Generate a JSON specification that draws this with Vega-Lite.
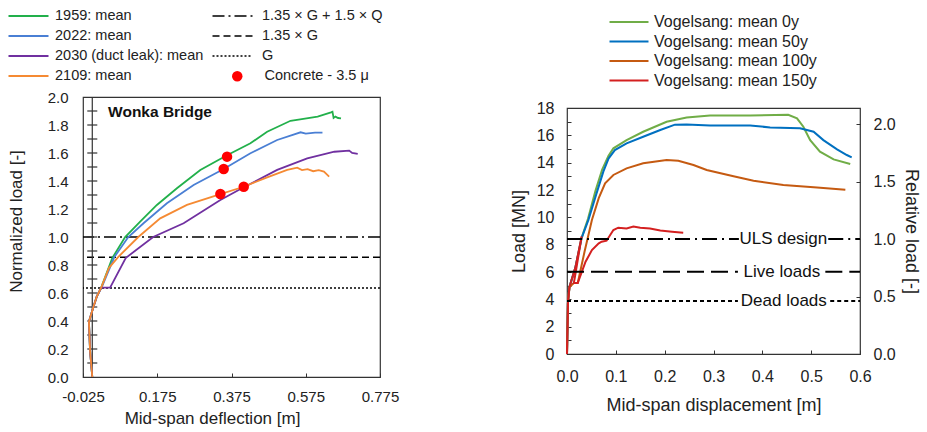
{
  "$schema": "https://vega.github.io/schema/vega-lite/v6.json",
  "autosize": {"type": "none"},
  "padding": {"left": 83, "top": 97, "right": 844, "bottom": 335},
  "background": "white",
  "bounds": "flush",
  "spacing": 187,
  "resolve": {"scale": {"color": "independent", "strokeDash": "independent", "shape": "independent", "strokeWidth": "independent"}},
  "config": {
    "font": "Liberation Sans",
    "view": {"stroke": "#333", "strokeWidth": 1.2},
    "axis": {"grid": false, "domain": false, "labelFont": "Liberation Sans", "titleFont": "Liberation Sans", "labelColor": "#222", "titleColor": "#222", "titleFontWeight": "normal", "tickColor": "#333", "labelFontSize": 15, "titleFontSize": 17, "labelFlush": false, "labelOverlap": false},
    "legend": {"labelFont": "Liberation Sans", "labelColor": "#222", "padding": 0, "rowPadding": 2, "direction": "vertical", "labelLimit": 0}
  },
  "datasets": {
    "leftLines": [
      {"s": "1959: mean", "i": 0, "x": 0.0, "y": 0.0}, {"s": "1959: mean", "i": 1, "x": -0.006, "y": 0.19}, {"s": "1959: mean", "i": 2, "x": -0.009, "y": 0.395}, {"s": "1959: mean", "i": 3, "x": 0.003, "y": 0.5}, {"s": "1959: mean", "i": 4, "x": 0.012, "y": 0.574}, {"s": "1959: mean", "i": 5, "x": 0.024, "y": 0.638}, {"s": "1959: mean", "i": 6, "x": 0.054, "y": 0.85}, {"s": "1959: mean", "i": 7, "x": 0.0885, "y": 1.0}, {"s": "1959: mean", "i": 8, "x": 0.129, "y": 1.109}, {"s": "1959: mean", "i": 9, "x": 0.174, "y": 1.229}, {"s": "1959: mean", "i": 10, "x": 0.228, "y": 1.348}, {"s": "1959: mean", "i": 11, "x": 0.291, "y": 1.479}, {"s": "1959: mean", "i": 12, "x": 0.363, "y": 1.584}, {"s": "1959: mean", "i": 13, "x": 0.426, "y": 1.669}, {"s": "1959: mean", "i": 14, "x": 0.471, "y": 1.752}, {"s": "1959: mean", "i": 15, "x": 0.534, "y": 1.83}, {"s": "1959: mean", "i": 16, "x": 0.56, "y": 1.84}, {"s": "1959: mean", "i": 17, "x": 0.607, "y": 1.86}, {"s": "1959: mean", "i": 18, "x": 0.643, "y": 1.89}, {"s": "1959: mean", "i": 19, "x": 0.647, "y": 1.895}, {"s": "1959: mean", "i": 20, "x": 0.65, "y": 1.85}, {"s": "1959: mean", "i": 21, "x": 0.655, "y": 1.86}, {"s": "1959: mean", "i": 22, "x": 0.662, "y": 1.85}, {"s": "1959: mean", "i": 23, "x": 0.67, "y": 1.848},
      {"s": "2022: mean", "i": 0, "x": 0.0, "y": 0.0}, {"s": "2022: mean", "i": 1, "x": -0.006, "y": 0.19}, {"s": "2022: mean", "i": 2, "x": -0.009, "y": 0.395}, {"s": "2022: mean", "i": 3, "x": 0.003, "y": 0.5}, {"s": "2022: mean", "i": 4, "x": 0.012, "y": 0.574}, {"s": "2022: mean", "i": 5, "x": 0.025, "y": 0.638}, {"s": "2022: mean", "i": 6, "x": 0.059, "y": 0.855}, {"s": "2022: mean", "i": 7, "x": 0.097, "y": 1.0}, {"s": "2022: mean", "i": 8, "x": 0.138, "y": 1.098}, {"s": "2022: mean", "i": 9, "x": 0.201, "y": 1.241}, {"s": "2022: mean", "i": 10, "x": 0.273, "y": 1.371}, {"s": "2022: mean", "i": 11, "x": 0.354, "y": 1.486}, {"s": "2022: mean", "i": 12, "x": 0.426, "y": 1.598}, {"s": "2022: mean", "i": 13, "x": 0.498, "y": 1.693}, {"s": "2022: mean", "i": 14, "x": 0.54, "y": 1.73}, {"s": "2022: mean", "i": 15, "x": 0.561, "y": 1.748}, {"s": "2022: mean", "i": 16, "x": 0.575, "y": 1.738}, {"s": "2022: mean", "i": 17, "x": 0.6, "y": 1.745}, {"s": "2022: mean", "i": 18, "x": 0.62, "y": 1.745},
      {"s": "2030 (duct leak): mean", "i": 0, "x": 0.0, "y": 0.0}, {"s": "2030 (duct leak): mean", "i": 1, "x": -0.006, "y": 0.19}, {"s": "2030 (duct leak): mean", "i": 2, "x": -0.009, "y": 0.395}, {"s": "2030 (duct leak): mean", "i": 3, "x": 0.003, "y": 0.5}, {"s": "2030 (duct leak): mean", "i": 4, "x": 0.012, "y": 0.574}, {"s": "2030 (duct leak): mean", "i": 5, "x": 0.024, "y": 0.638}, {"s": "2030 (duct leak): mean", "i": 6, "x": 0.048, "y": 0.638}, {"s": "2030 (duct leak): mean", "i": 7, "x": 0.09, "y": 0.85}, {"s": "2030 (duct leak): mean", "i": 8, "x": 0.164, "y": 1.0}, {"s": "2030 (duct leak): mean", "i": 9, "x": 0.246, "y": 1.098}, {"s": "2030 (duct leak): mean", "i": 10, "x": 0.345, "y": 1.264}, {"s": "2030 (duct leak): mean", "i": 11, "x": 0.408, "y": 1.355}, {"s": "2030 (duct leak): mean", "i": 12, "x": 0.498, "y": 1.479}, {"s": "2030 (duct leak): mean", "i": 13, "x": 0.579, "y": 1.562}, {"s": "2030 (duct leak): mean", "i": 14, "x": 0.652, "y": 1.609}, {"s": "2030 (duct leak): mean", "i": 15, "x": 0.692, "y": 1.617}, {"s": "2030 (duct leak): mean", "i": 16, "x": 0.7, "y": 1.6}, {"s": "2030 (duct leak): mean", "i": 17, "x": 0.715, "y": 1.593},
      {"s": "2109: mean", "i": 0, "x": 0.0, "y": 0.0}, {"s": "2109: mean", "i": 1, "x": -0.006, "y": 0.19}, {"s": "2109: mean", "i": 2, "x": -0.009, "y": 0.395}, {"s": "2109: mean", "i": 3, "x": 0.003, "y": 0.5}, {"s": "2109: mean", "i": 4, "x": 0.012, "y": 0.574}, {"s": "2109: mean", "i": 5, "x": 0.024, "y": 0.638}, {"s": "2109: mean", "i": 6, "x": 0.045, "y": 0.78}, {"s": "2109: mean", "i": 7, "x": 0.069, "y": 0.855}, {"s": "2109: mean", "i": 8, "x": 0.124, "y": 1.0}, {"s": "2109: mean", "i": 9, "x": 0.183, "y": 1.133}, {"s": "2109: mean", "i": 10, "x": 0.255, "y": 1.229}, {"s": "2109: mean", "i": 11, "x": 0.345, "y": 1.307}, {"s": "2109: mean", "i": 12, "x": 0.408, "y": 1.359}, {"s": "2109: mean", "i": 13, "x": 0.471, "y": 1.426}, {"s": "2109: mean", "i": 14, "x": 0.525, "y": 1.479}, {"s": "2109: mean", "i": 15, "x": 0.552, "y": 1.495}, {"s": "2109: mean", "i": 16, "x": 0.565, "y": 1.478}, {"s": "2109: mean", "i": 17, "x": 0.58, "y": 1.485}, {"s": "2109: mean", "i": 18, "x": 0.595, "y": 1.47}, {"s": "2109: mean", "i": 19, "x": 0.61, "y": 1.478}, {"s": "2109: mean", "i": 20, "x": 0.624, "y": 1.467}, {"s": "2109: mean", "i": 21, "x": 0.638, "y": 1.431}
    ],
    "leftPts": [
      {"kind": "Concrete  - 3.5 μ", "x": 0.363, "y": 1.574},
      {"kind": "Concrete  - 3.5 μ", "x": 0.354, "y": 1.486},
      {"kind": "Concrete  - 3.5 μ", "x": 0.345, "y": 1.307},
      {"kind": "Concrete  - 3.5 μ", "x": 0.408, "y": 1.359}
    ],
    "leftRef": [
      {"label": "1.35 × G + 1.5 × Q", "y": 1.0},
      {"label": "1.35 × G", "y": 0.855},
      {"label": "G", "y": 0.635}
    ],
    "leftTicks": [
      {"y": 0.1}, {"y": 0.2}, {"y": 0.3}, {"y": 0.4}, {"y": 0.5}, {"y": 0.6}, {"y": 0.7}, {"y": 0.8}, {"y": 0.9}, {"y": 1.0},
      {"y": 1.1}, {"y": 1.2}, {"y": 1.3}, {"y": 1.4}, {"y": 1.5}, {"y": 1.6}, {"y": 1.7}, {"y": 1.8}, {"y": 1.9}
    ],
    "rightLines": [
      {"s": "Vogelsang: mean 0y", "i": 0, "x": 0.0, "y": 0.0}, {"s": "Vogelsang: mean 0y", "i": 1, "x": 0.002, "y": 3.8}, {"s": "Vogelsang: mean 0y", "i": 2, "x": 0.005, "y": 4.9}, {"s": "Vogelsang: mean 0y", "i": 3, "x": 0.017, "y": 6.3}, {"s": "Vogelsang: mean 0y", "i": 4, "x": 0.03, "y": 8.5}, {"s": "Vogelsang: mean 0y", "i": 5, "x": 0.043, "y": 9.9}, {"s": "Vogelsang: mean 0y", "i": 6, "x": 0.058, "y": 11.9}, {"s": "Vogelsang: mean 0y", "i": 7, "x": 0.072, "y": 13.5}, {"s": "Vogelsang: mean 0y", "i": 8, "x": 0.085, "y": 14.5}, {"s": "Vogelsang: mean 0y", "i": 9, "x": 0.095, "y": 15.05}, {"s": "Vogelsang: mean 0y", "i": 10, "x": 0.122, "y": 15.65}, {"s": "Vogelsang: mean 0y", "i": 11, "x": 0.156, "y": 16.26}, {"s": "Vogelsang: mean 0y", "i": 12, "x": 0.204, "y": 16.99}, {"s": "Vogelsang: mean 0y", "i": 13, "x": 0.245, "y": 17.31}, {"s": "Vogelsang: mean 0y", "i": 14, "x": 0.293, "y": 17.46}, {"s": "Vogelsang: mean 0y", "i": 15, "x": 0.375, "y": 17.46}, {"s": "Vogelsang: mean 0y", "i": 16, "x": 0.453, "y": 17.5}, {"s": "Vogelsang: mean 0y", "i": 17, "x": 0.471, "y": 17.24}, {"s": "Vogelsang: mean 0y", "i": 18, "x": 0.484, "y": 16.63}, {"s": "Vogelsang: mean 0y", "i": 19, "x": 0.498, "y": 15.65}, {"s": "Vogelsang: mean 0y", "i": 20, "x": 0.518, "y": 14.8}, {"s": "Vogelsang: mean 0y", "i": 21, "x": 0.546, "y": 14.24}, {"s": "Vogelsang: mean 0y", "i": 22, "x": 0.58, "y": 13.9},
      {"s": "Vogelsang: mean 50y", "i": 0, "x": 0.0, "y": 0.0}, {"s": "Vogelsang: mean 50y", "i": 1, "x": 0.002, "y": 3.8}, {"s": "Vogelsang: mean 50y", "i": 2, "x": 0.005, "y": 4.9}, {"s": "Vogelsang: mean 50y", "i": 3, "x": 0.017, "y": 6.3}, {"s": "Vogelsang: mean 50y", "i": 4, "x": 0.03, "y": 8.5}, {"s": "Vogelsang: mean 50y", "i": 5, "x": 0.0437, "y": 9.8}, {"s": "Vogelsang: mean 50y", "i": 6, "x": 0.06, "y": 11.7}, {"s": "Vogelsang: mean 50y", "i": 7, "x": 0.0744, "y": 13.34}, {"s": "Vogelsang: mean 50y", "i": 8, "x": 0.085, "y": 14.3}, {"s": "Vogelsang: mean 50y", "i": 9, "x": 0.098, "y": 14.92}, {"s": "Vogelsang: mean 50y", "i": 10, "x": 0.122, "y": 15.41}, {"s": "Vogelsang: mean 50y", "i": 11, "x": 0.156, "y": 15.9}, {"s": "Vogelsang: mean 50y", "i": 12, "x": 0.191, "y": 16.39}, {"s": "Vogelsang: mean 50y", "i": 13, "x": 0.221, "y": 16.78}, {"s": "Vogelsang: mean 50y", "i": 14, "x": 0.245, "y": 16.8}, {"s": "Vogelsang: mean 50y", "i": 15, "x": 0.293, "y": 16.72}, {"s": "Vogelsang: mean 50y", "i": 16, "x": 0.375, "y": 16.72}, {"s": "Vogelsang: mean 50y", "i": 17, "x": 0.416, "y": 16.58}, {"s": "Vogelsang: mean 50y", "i": 18, "x": 0.477, "y": 16.51}, {"s": "Vogelsang: mean 50y", "i": 19, "x": 0.505, "y": 16.26}, {"s": "Vogelsang: mean 50y", "i": 20, "x": 0.525, "y": 15.65}, {"s": "Vogelsang: mean 50y", "i": 21, "x": 0.553, "y": 14.97}, {"s": "Vogelsang: mean 50y", "i": 22, "x": 0.573, "y": 14.56}, {"s": "Vogelsang: mean 50y", "i": 23, "x": 0.583, "y": 14.39},
      {"s": "Vogelsang: mean 100y", "i": 0, "x": 0.0, "y": 0.0}, {"s": "Vogelsang: mean 100y", "i": 1, "x": 0.002, "y": 3.8}, {"s": "Vogelsang: mean 100y", "i": 2, "x": 0.005, "y": 4.9}, {"s": "Vogelsang: mean 100y", "i": 3, "x": 0.014, "y": 5.2}, {"s": "Vogelsang: mean 100y", "i": 4, "x": 0.022, "y": 5.2}, {"s": "Vogelsang: mean 100y", "i": 5, "x": 0.036, "y": 7.5}, {"s": "Vogelsang: mean 100y", "i": 6, "x": 0.051, "y": 9.8}, {"s": "Vogelsang: mean 100y", "i": 7, "x": 0.065, "y": 11.4}, {"s": "Vogelsang: mean 100y", "i": 8, "x": 0.078, "y": 12.49}, {"s": "Vogelsang: mean 100y", "i": 9, "x": 0.095, "y": 13.1}, {"s": "Vogelsang: mean 100y", "i": 10, "x": 0.122, "y": 13.58}, {"s": "Vogelsang: mean 100y", "i": 11, "x": 0.156, "y": 13.95}, {"s": "Vogelsang: mean 100y", "i": 12, "x": 0.204, "y": 14.19}, {"s": "Vogelsang: mean 100y", "i": 13, "x": 0.228, "y": 14.14}, {"s": "Vogelsang: mean 100y", "i": 14, "x": 0.259, "y": 13.83}, {"s": "Vogelsang: mean 100y", "i": 15, "x": 0.286, "y": 13.46}, {"s": "Vogelsang: mean 100y", "i": 16, "x": 0.341, "y": 13.0}, {"s": "Vogelsang: mean 100y", "i": 17, "x": 0.382, "y": 12.68}, {"s": "Vogelsang: mean 100y", "i": 18, "x": 0.443, "y": 12.36}, {"s": "Vogelsang: mean 100y", "i": 19, "x": 0.512, "y": 12.18}, {"s": "Vogelsang: mean 100y", "i": 20, "x": 0.57, "y": 12.02},
      {"s": "Vogelsang: mean 150y", "i": 0, "x": 0.0, "y": 0.0}, {"s": "Vogelsang: mean 150y", "i": 1, "x": 0.002, "y": 3.8}, {"s": "Vogelsang: mean 150y", "i": 2, "x": 0.005, "y": 4.9}, {"s": "Vogelsang: mean 150y", "i": 3, "x": 0.017, "y": 6.3}, {"s": "Vogelsang: mean 150y", "i": 4, "x": 0.03, "y": 8.6}, {"s": "Vogelsang: mean 150y", "i": 5, "x": 0.016, "y": 5.6}, {"s": "Vogelsang: mean 150y", "i": 6, "x": 0.014, "y": 5.2}, {"s": "Vogelsang: mean 150y", "i": 7, "x": 0.022, "y": 5.2}, {"s": "Vogelsang: mean 150y", "i": 8, "x": 0.038, "y": 6.75}, {"s": "Vogelsang: mean 150y", "i": 9, "x": 0.051, "y": 7.6}, {"s": "Vogelsang: mean 150y", "i": 10, "x": 0.065, "y": 8.1}, {"s": "Vogelsang: mean 150y", "i": 11, "x": 0.071, "y": 8.22}, {"s": "Vogelsang: mean 150y", "i": 12, "x": 0.081, "y": 8.29}, {"s": "Vogelsang: mean 150y", "i": 13, "x": 0.095, "y": 9.07}, {"s": "Vogelsang: mean 150y", "i": 14, "x": 0.105, "y": 9.24}, {"s": "Vogelsang: mean 150y", "i": 15, "x": 0.122, "y": 9.19}, {"s": "Vogelsang: mean 150y", "i": 16, "x": 0.136, "y": 9.33}, {"s": "Vogelsang: mean 150y", "i": 17, "x": 0.15, "y": 9.24}, {"s": "Vogelsang: mean 150y", "i": 18, "x": 0.17, "y": 9.19}, {"s": "Vogelsang: mean 150y", "i": 19, "x": 0.191, "y": 9.04}, {"s": "Vogelsang: mean 150y", "i": 20, "x": 0.215, "y": 8.95}, {"s": "Vogelsang: mean 150y", "i": 21, "x": 0.238, "y": 8.88}
    ],
    "rightRef": [
      {"label": "ULS design", "rel": 1.0, "x1": 0.0, "x2": 0.352},
      {"label": "ULS design", "rel": 1.0, "x1": 0.535, "x2": 0.6},
      {"label": "Live loads", "rel": 0.716, "x1": 0.0, "x2": 0.35},
      {"label": "Live loads", "rel": 0.716, "x1": 0.529, "x2": 0.6},
      {"label": "Dead loads", "rel": 0.461, "x1": 0.0, "x2": 0.35},
      {"label": "Dead loads", "rel": 0.461, "x1": 0.539, "x2": 0.6}
    ],
    "rightText": [
      {"label": "ULS design", "rel": 1.0, "x": 0.443},
      {"label": "Live loads", "rel": 0.716, "x": 0.44},
      {"label": "Dead loads", "rel": 0.461, "x": 0.444}
    ]
  },
  "hconcat": [
    {
      "width": 297,
      "height": 280,
      "encoding": {
        "y": {"field": "y", "type": "quantitative", "scale": {"domain": [0, 2], "nice": false},
          "axis": {"values": [0, 0.2, 0.4, 0.6, 0.8, 1.0, 1.2, 1.4, 1.6, 1.8, 2.0], "format": ".1f", "ticks": false, "labelPadding": 15, "labelOverlap": false, "labelBound": false, "title": "Normalized load [-]", "titlePadding": 22, "titleY": 124}}
      },
      "layer": [
        {
          "data": {"name": "leftRef"},
          "mark": {"type": "rule", "color": "black", "strokeWidth": 1.5},
          "encoding": {
            "strokeDash": {"field": "label", "type": "nominal",
              "scale": {"domain": ["1.35 × G + 1.5 × Q", "1.35 × G", "G"], "range": [[12, 4, 2, 4], [7, 4], [2, 2]]},
              "legend": {"orient": "none", "legendX": 138.5, "legendY": -92, "title": null, "symbolType": "M-2,0L2,0", "symbolSize": 400, "symbolStrokeWidth": 1.5, "symbolStrokeColor": "black", "labelFontSize": 14.5, "labelOffset": 18.5}}
          }
        },
        {
          "data": {"values": [{"x": 0}]},
          "mark": {"type": "rule", "color": "#333", "strokeWidth": 1.2},
          "encoding": {"x": {"field": "x", "type": "quantitative"}, "y": null}
        },
        {
          "data": {"name": "leftTicks"},
          "mark": {"type": "tick", "orient": "horizontal", "size": 10, "thickness": 1.2, "color": "#333", "opacity": 1},
          "encoding": {"x": {"datum": 0, "type": "quantitative"}}
        },
        {
          "data": {"name": "leftLines"},
          "mark": {"type": "line", "strokeWidth": 1.8},
          "encoding": {
            "x": {"field": "x", "type": "quantitative", "scale": {"domain": [-0.025, 0.775], "nice": false, "zero": false},
              "axis": {"values": [-0.025, 0.075, 0.175, 0.275, 0.375, 0.475, 0.575, 0.675, 0.775], "labelExpr": "abs(datum.value*1000 + 25) % 200 < 1 ? replace(format(datum.value, '.3f'), '−', '-') : ''", "tickSize": -4, "labelPadding": 16, "title": "Mid-span deflection [m]", "titlePadding": 6, "titleX": 129}},
            "order": {"field": "i", "type": "quantitative"},
            "color": {"field": "s", "type": "nominal",
              "scale": {"domain": ["1959: mean", "2022: mean", "2030 (duct leak): mean", "2109: mean"], "range": ["#22b04b", "#4a7fd4", "#7030a0", "#f58a33"]},
              "legend": {"orient": "none", "legendX": -65.5, "legendY": -92, "title": null, "symbolType": "M-2,0L2,0", "symbolSize": 400, "symbolStrokeWidth": 2, "labelFontSize": 14.5, "labelOffset": 15.5}}
          }
        },
        {
          "data": {"name": "leftPts"},
          "mark": {"type": "point", "filled": true, "size": 110, "color": "#ff0000", "opacity": 1},
          "encoding": {
            "x": {"field": "x", "type": "quantitative"},
            "shape": {"field": "kind", "type": "nominal", "scale": {"range": ["circle"]},
              "legend": {"orient": "none", "legendX": 147, "legendY": -28, "title": null, "symbolSize": 110, "symbolFillColor": "#ff0000", "symbolStrokeColor": "#ff0000", "labelFontSize": 14.5, "labelOffset": 20}}
          }
        },
        {
          "data": {"values": [{"x": 0.0425, "y": 1.895, "t": "Wonka Bridge"}]},
          "mark": {"type": "text", "align": "left", "baseline": "middle", "fontWeight": "bold", "fontSize": 15.5, "color": "#111"},
          "encoding": {"x": {"field": "x", "type": "quantitative"}, "text": {"field": "t"}}
        }
      ]
    },
    {
      "vconcat": [
        {
          "width": 293,
          "height": 11,
          "view": {"stroke": null},
          "data": {"values": []},
          "mark": "point"
        },
        {
          "width": 293,
          "height": 246,
          "layer": [
            {
              "data": {"name": "rightLines"},
              "mark": {"type": "line", "strokeWidth": 2},
              "encoding": {
                "x": {"field": "x", "type": "quantitative", "scale": {"domain": [0, 0.6], "nice": false},
                  "axis": {"values": [0, 0.05, 0.1, 0.15, 0.2, 0.25, 0.3, 0.35, 0.4, 0.45, 0.5, 0.55, 0.6], "labelExpr": "round(datum.value*100) % 10 == 0 ? format(datum.value, '.1f') : ''", "tickSize": -4, "labelPadding": 18, "labelFontSize": 16, "title": "Mid-span displacement [m]", "titleFontSize": 18, "titlePadding": 12}},
                "y": {"field": "y", "type": "quantitative", "scale": {"domain": [0, 18], "nice": false},
                  "axis": {"values": [0, 1, 2, 3, 4, 5, 6, 7, 8, 9, 10, 11, 12, 13, 14, 15, 16, 17, 18], "labelExpr": "datum.value % 2 == 0 ? datum.label : ''", "tickSize": -4, "labelPadding": 17, "labelFontSize": 16, "title": "Load [MN]", "titleFontSize": 18, "titlePadding": 8}},
                "order": {"field": "i", "type": "quantitative"},
                "color": {"field": "s", "type": "nominal",
                  "scale": {"domain": ["Vogelsang: mean 0y", "Vogelsang: mean 50y", "Vogelsang: mean 100y", "Vogelsang: mean 150y"], "range": ["#70ad47", "#0070c0", "#c55a11", "#d42020"]},
                  "legend": {"orient": "none", "legendX": 51, "legendY": -86, "title": null, "symbolType": "M-2,0L2,0", "symbolSize": 380, "symbolStrokeWidth": 2.2, "labelFontSize": 16, "labelOffset": 14, "rowPadding": 0.5}}
              }
            },
            {
              "layer": [
                {
                  "data": {"name": "rightRef"},
                  "mark": {"type": "rule", "color": "black"},
                  "encoding": {
                    "x": {"field": "x1", "type": "quantitative"},
                    "x2": {"field": "x2"},
                    "y": {"field": "rel", "type": "quantitative", "scale": {"domain": [0, 2.14], "nice": false},
                      "axis": {"orient": "right", "values": [0, 0.25, 0.5, 0.75, 1.0, 1.25, 1.5, 1.75, 2.0], "labelExpr": "round(datum.value*100) % 50 == 0 ? format(datum.value, '.1f') : ''", "tickSize": -4, "labelPadding": 17, "labelFontSize": 16, "title": "Relative load [-]", "titleFontSize": 18, "titlePadding": 6}},
                    "strokeDash": {"field": "label", "type": "nominal", "scale": {"domain": ["ULS design", "Live loads", "Dead loads"], "range": [[15, 5, 2, 5], [17, 7], [4, 3]]}, "legend": null},
                    "strokeWidth": {"field": "label", "type": "nominal", "scale": {"domain": ["ULS design", "Live loads", "Dead loads"], "range": [2, 2, 1.5]}, "legend": null}
                  }
                },
                {
                  "data": {"name": "rightText"},
                  "mark": {"type": "text", "align": "center", "baseline": "middle", "fontSize": 17, "color": "#111"},
                  "encoding": {
                    "x": {"field": "x", "type": "quantitative"},
                    "y": {"field": "rel", "type": "quantitative"},
                    "text": {"field": "label"}
                  }
                }
              ]
            }
          ],
          "resolve": {"scale": {"y": "independent"}}
        }
      ],
      "spacing": 0,
      "bounds": "flush"
    }
  ]
}
